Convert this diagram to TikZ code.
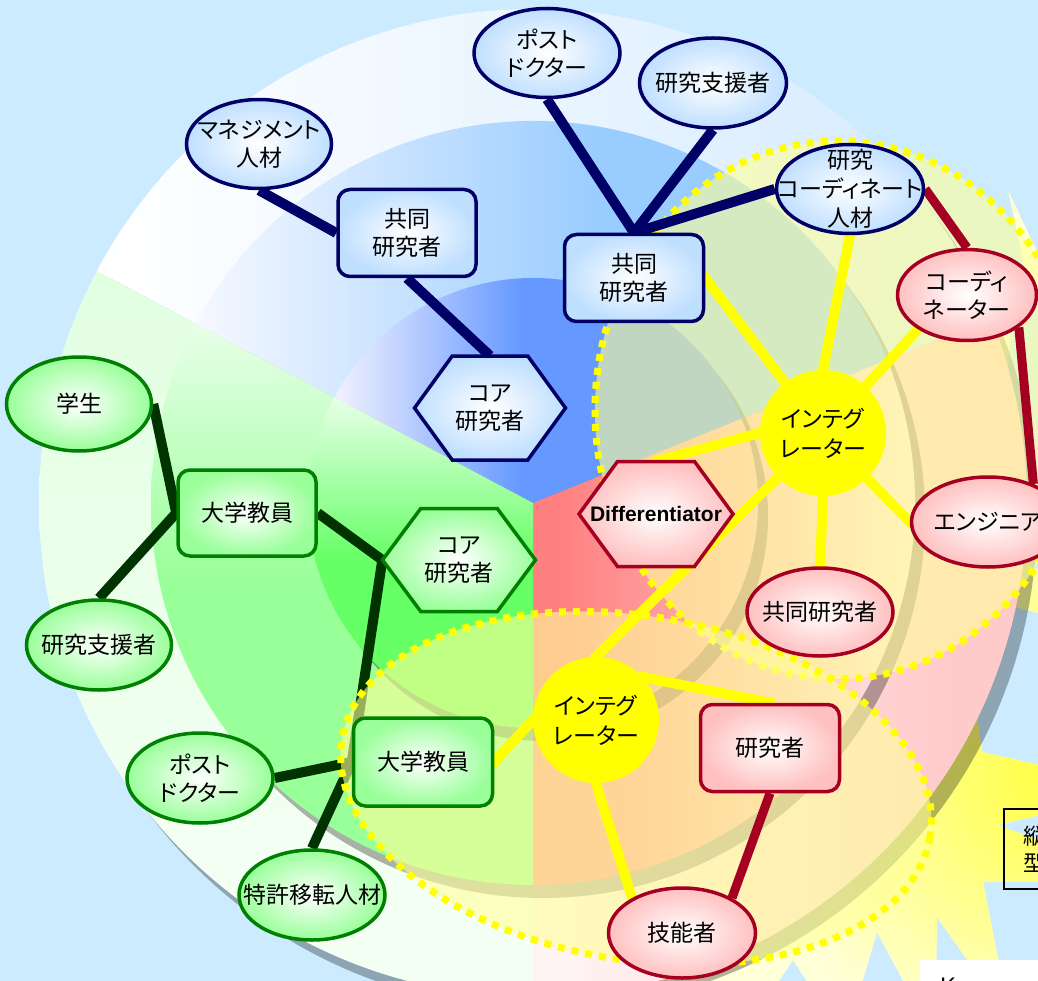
\documentclass[tikz,border=0pt]{standalone}
\usepackage{fontspec}
\setmainfont{Noto Sans CJK JP}[RawFeature={+palt}]
\newfontfamily\arialfont{Liberation Sans}
\usetikzlibrary{shapes.geometric,calc}
\definecolor{bgblue}{HTML}{CCEBFF}
\definecolor{navyc}{HTML}{000066}
\definecolor{greenc}{HTML}{008000}
\definecolor{redc}{HTML}{A50021}
\definecolor{glinec}{HTML}{003300}
\definecolor{bfill}{HTML}{BFDFFF}
\definecolor{gfill}{HTML}{99FF99}
\definecolor{rfill}{HTML}{FFC0C0}
\definecolor{yel}{HTML}{FFFF00}
\definecolor{zonefill}{HTML}{FFFF99}
\definecolor{starA}{HTML}{FFFF44}
\definecolor{starB}{HTML}{FFFFD8}
\definecolor{bo1}{HTML}{FFFFFF}\definecolor{bo2}{HTML}{D6EBFF}
\definecolor{bm1}{HTML}{F5F8FF}\definecolor{bm2}{HTML}{99CCFF}
\definecolor{bi1}{HTML}{F0F0FF}\definecolor{bi2}{HTML}{6699FF}
\definecolor{go1}{HTML}{E2FFE2}\definecolor{go2}{HTML}{F4FFF4}
\definecolor{gm1}{HTML}{E6FFE6}\definecolor{gm2}{HTML}{99FF99}
\definecolor{gi1}{HTML}{E6FFE6}\definecolor{gi2}{HTML}{66FF66}
\definecolor{ro1}{HTML}{FFF4F4}\definecolor{ro2}{HTML}{FFCACA}
\definecolor{rm1}{HTML}{FF9494}\definecolor{rm2}{HTML}{FFE2E2}
\definecolor{ri1}{HTML}{FF8080}\definecolor{ri2}{HTML}{FFB8B8}
\pgfdeclarelayer{pie}
\pgfdeclarelayer{glines}
\pgfdeclarelayer{zone}
\pgfdeclarelayer{lines}
\pgfsetlayers{pie,glines,zone,lines,main}
\newcommand\pcx{533}
\newcommand\pcy{503}
% horizontal gradient ring sector: a1 a2 R xleft xright colL colR
\newcommand\ring[7]{%
  \begin{scope}
    \clip (\pcx,\pcy) -- ++(#1:#3) arc[start angle=#1, end angle=#2, radius=#3] -- cycle;
    \fill[#6] (0,0) rectangle (#4,1000);
    \shade[left color=#6, right color=#7] (#4,0) rectangle (#5,1000);
    \fill[#7] (#5,0) rectangle (1100,1000);
  \end{scope}}
% vertical gradient ring sector: a1 a2 R ytop ybottom colTop colBottom
\newcommand\ringv[7]{%
  \begin{scope}
    \clip (\pcx,\pcy) -- ++(#1:#3) arc[start angle=#1, end angle=#2, radius=#3] -- cycle;
    \fill[#6] (0,0) rectangle (1100,#4);
    \shade[top color=#6, bottom color=#7] (0,#4) rectangle (1100,#5);
    \fill[#7] (0,#5) rectangle (1100,1000);
  \end{scope}}
\newcommand\hexnode[7]{%
  \path[#6] ({#2-#4/2},{#3}) -- ({#2-#4/4},{#3-#5/2}) -- ({#2+#4/4},{#3-#5/2}) -- ({#2+#4/2},{#3}) -- ({#2+#4/4},{#3+#5/2}) -- ({#2-#4/4},{#3+#5/2}) -- cycle;
  \node[jp, minimum width=#4pt, minimum height=#5pt] (#1) at (#2,#3) {#7};}
\begin{document}
\begin{tikzpicture}[x=1pt,y=-1pt,
  jp/.style={font=\fontsize{23}{28}\selectfont, align=center, inner sep=0pt, text=black},
  bl/.style={draw=navyc, line width=3.5pt, inner color=white, outer color=bfill, inner sep=0pt},
  gr/.style={draw=greenc, line width=3.5pt, inner color=white, outer color=gfill, inner sep=0pt},
  rd/.style={draw=redc, line width=3.5pt, inner color=white, outer color=rfill, inner sep=0pt},
  rr/.style={rectangle, rounded corners=12pt},
  txt/.style={label={[jp]center:#1}},
  intg/.style={circle, fill=yel, minimum size=126pt, inner sep=0pt},
  nline/.style={line width=10pt, draw=navyc},
  gline/.style={line width=10pt, draw=glinec},
  rline/.style={line width=9pt, draw=redc},
  yline/.style={line width=10pt, draw=yel, shorten <=-4pt, shorten >=-4pt},
  zonest/.style={fill=zonefill, fill opacity=0.6, draw=yel, draw opacity=1, line width=7pt, dash pattern=on 7pt off 7pt},
  shad/.style={fill=black, opacity=0.3}
]
\useasboundingbox (0,0) rectangle (1038,981);

% ---------- nodes (main layer) ----------
% blue group
\node[bl, ellipse, minimum width=145pt, minimum height=89pt, txt={マネジメント\\人材}] (mg) at (259,144) {};
\node[bl, rr, minimum width=138pt, minimum height=87pt, txt={共同\\研究者}] (kb1) at (407,233) {};
\hexnode{coreb}{490}{408}{151}{104}{bl}{コア\\研究者}
\node[bl, ellipse, minimum width=146pt, minimum height=89pt, txt={ポスト\\ドクター}] (pdb) at (547,53) {};
\node[bl, ellipse, minimum width=147pt, minimum height=90pt, txt={研究支援者}] (sb) at (713,83) {};
\node[bl, rr, minimum width=139pt, minimum height=87pt, txt={共同\\研究者}] (kb2) at (634,278) {};
\node[bl, ellipse, minimum width=147pt, minimum height=89pt,
      label={[jp, font=\fontsize{23}{29}\selectfont]center:研究\\コーディネート\\人材}] (rc) at (850,189) {};
% red group
\node[rd, ellipse, minimum width=139pt, minimum height=91pt, txt={コーディ\\ネーター}] (co) at (967,295) {};
\node[rd, ellipse, minimum width=153pt, minimum height=90pt, txt={エンジニア}] (en) at (988,522) {};
\node[rd, ellipse, minimum width=146pt, minimum height=88pt, txt={共同研究者}] (kr) at (820,612) {};
\hexnode{df}{656}{514}{154}{105}{rd}{{\arialfont\bfseries\fontsize{21}{25}\selectfont Differentiator}}
\node[rd, rr, minimum width=139pt, minimum height=87pt, txt={研究者}] (rs) at (770,748) {};
\node[rd, ellipse, minimum width=147pt, minimum height=90pt, txt={技能者}] (gi) at (682,933) {};
% green group
\node[gr, ellipse, minimum width=145pt, minimum height=94pt, txt={学生}] (st) at (79,404) {};
\node[gr, rr, minimum width=138pt, minimum height=86pt, txt={大学教員}] (dg1) at (247,513) {};
\hexnode{coreg}{459}{560}{153}{103}{gr}{コア\\研究者}
\node[gr, ellipse, minimum width=145pt, minimum height=90pt, txt={研究支援者}] (sg) at (99,645) {};
\node[gr, ellipse, minimum width=146pt, minimum height=90pt, txt={ポスト\\ドクター}] (pdg) at (200,778) {};
\node[gr, rr, minimum width=139pt, minimum height=88pt, txt={大学教員}] (dg2) at (423,762) {};
\node[gr, ellipse, minimum width=146pt, minimum height=90pt, txt={特許移転人材}] (tk) at (312,895) {};
% integrators
\node[intg, label={[jp, font=\fontsize{23}{30}\selectfont]center:インテグ\\レーター}] (ig1) at (823,433) {};
\node[intg, label={[jp, font=\fontsize{23}{30}\selectfont]center:インテグ\\レーター}] (ig2) at (596,720) {};
% right-edge box and bottom white panel
\node[draw=black, line width=2pt, anchor=north west, minimum height=80pt, text width=60pt,
      inner xsep=19pt, align=left, font=\fontsize{22}{27}\selectfont] (tate) at (1003,808) {縦\\型};
\node[fill=white, anchor=north west, minimum width=150pt, minimum height=40pt, inner sep=0pt] (kpanel) at (920,960) {};
\node[anchor=base west, inner sep=0pt, font=\arialfont\fontsize{24}{28}\selectfont] (ktext) at (940,994) {K};

% ---------- pie background ----------
\begin{pgfonlayer}{pie}
\fill[bgblue] (0,0) rectangle (1038,981);
% star burst behind
\begin{scope}
\clip (1008,190) -- (1055,290) -- (1010,330) -- (1000,540) -- (1120,635) -- (960,592) -- (982,752) -- (1150,790) -- (997,825) -- (1150,880) -- (983,882) -- (1010,1020) -- (937,917) -- (935,1040) -- (877,932) -- (845,1040) -- (793,960) -- (740,1040) -- (650,1000) -- (650,800) -- (960,300) -- (1025,270) -- cycle;
\fill[starB] (600,150) rectangle (1200,1100);
\shade[inner color=starA, outer color=starB] (1050,770) circle[radius=300];
\end{scope}
% outer ring
\fill[shad] (543,516) circle[radius=494];
\ring{-152}{-22}{494}{100}{950}{bo1}{bo2}
\ring{-22}{90}{494}{560}{950}{ro1}{ro2}
\ringv{90}{208}{494}{270}{900}{go1}{go2}
% middle ring
\fill[shad] (543,516) circle[radius=382];
\ring{-152}{-22}{382}{200}{600}{bm1}{bm2}
\ring{-22}{90}{382}{620}{900}{rm1}{rm2}
\ringv{90}{208}{382}{330}{580}{gm1}{gm2}
% inner ring
\fill[shad] (543,516) circle[radius=225];
\ring{-152}{-22}{225}{338}{520}{bi1}{bi2}
\ring{-22}{90}{225}{560}{760}{ri1}{ri2}
\ringv{90}{208}{225}{400}{560}{gi1}{gi2}
\end{pgfonlayer}

% ---------- green connectors (under the zones) ----------
\begin{pgfonlayer}{glines}
\draw[gline] (st.east) -- (dg1.west);
\draw[gline] (sg.north) -- (dg1.west);
\draw[gline] (dg1.east) -- (coreg.west);
\draw[gline] (coreg.west) -- (dg2.west);
\draw[gline] (pdg.east) -- (dg2.west);
\draw[gline] (tk.north) -- (dg2.west);
\end{pgfonlayer}

% ---------- integration zones ----------
\begin{pgfonlayer}{zone}
\path[zonest] (838,410) ellipse[x radius=243, y radius=269];
\path[zonest, rotate around={-9.4:(636,788)}] (636,788) ellipse[x radius=298, y radius=172];
\end{pgfonlayer}

% ---------- other connectors ----------
\begin{pgfonlayer}{lines}
\draw[nline] (mg.south) -- (kb1.west);
\draw[nline] (kb1.south) -- (coreb.north);
\draw[nline] (pdb.south) -- (kb2.north);
\draw[nline] (sb.south) -- (kb2.north);
\draw[nline] (rc.west) -- (kb2.north);
\draw[rline] (rc.east) -- (co.north);
\draw[rline] (co.-32) -- (en.40);
\draw[rline] (rs.south) -- (gi.35);
\draw[yline] (kb2.east) -- (ig1.center);
\draw[yline] (rc.south) -- (ig1.north);
\draw[yline] (co.215) -- (ig1.center);
\draw[yline] (df.north) -- (ig1.west);
\draw[yline] (en.west) -- (ig1.center);
\draw[yline] (kr.north) -- (ig1.south);
\draw[yline] (ig1.center) -- (ig2.north);
\draw[yline] (dg2.east) -- (ig2.west);
\draw[yline] (ig2.43) -- (rs.north);
\draw[yline] (ig2.south) -- (gi.145);
\end{pgfonlayer}
\end{tikzpicture}
\end{document}
